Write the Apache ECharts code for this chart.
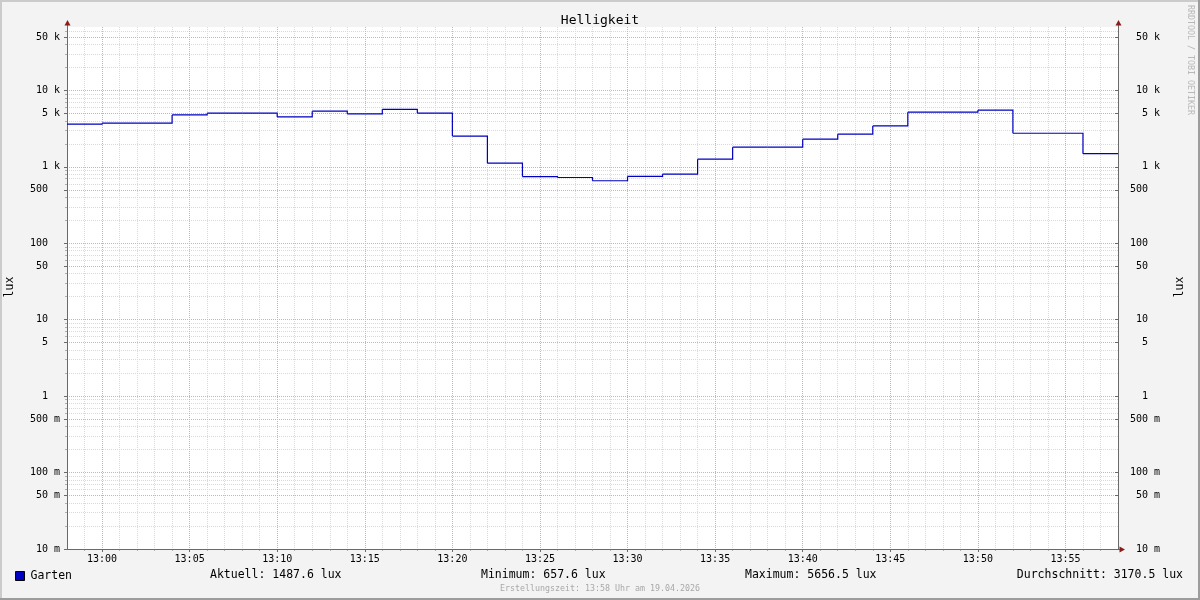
<!DOCTYPE html>
<html>
<head>
<meta charset="utf-8">
<script src="https://cdn.jsdelivr.net/npm/echarts@6/dist/echarts.min.js"></script>
<style>
html,body{margin:0;padding:0;background:#f3f3f3;}
#chart{width:1200px;height:600px;}
</style>
</head>
<body>
<div id="chart"></div>
<script>
// ---- data ----
const stepTimes = ['12:58','13:00','13:02','13:04','13:06','13:08','13:10','13:12','13:14','13:16',
                   '13:18','13:20','13:22','13:24','13:26','13:28','13:30','13:32','13:34','13:36',
                   '13:38','13:40','13:42','13:44','13:46','13:48','13:50','13:52','13:54','13:56'];
const garten = [3615, 3727, 3727, 4785, 5036, 5036, 4505, 5345, 4931, 5656.5,
                5036, 2530, 1117, 747, 725, 657.6, 750, 802, 1261, 1811,
                1811, 2301, 2674, 3433, 5186, 5186, 5508, 2752, 2752, 1487.6];
const endTime = '13:58';
const startTime = '12:58';
const xTickLabels = ['13:00','13:05','13:10','13:15','13:20','13:25','13:30','13:35','13:40','13:45','13:50','13:55'];
const yTickValues = [0.01, 0.05, 0.1, 0.5, 1, 5, 10, 50, 100, 500, 1000, 5000, 10000, 50000];
const yTickLabels = ['10 m','50 m','100 m','500 m','1  ','5  ','10  ','50  ','100  ','500  ','1 k','5 k','10 k','50 k'];
const statLabels = ['Aktuell', 'Minimum', 'Maximum', 'Durchschnitt'];
const statValues = [1487.6, 657.6, 5656.5, 3170.5];
const unit = 'lux';
const seriesName = 'Garten';
const chartTitle = 'Helligkeit';
const footer = 'Erstellungszeit: 13:58 Uhr am 19.04.2026';
const watermark = 'RRDTOOL / TOBI OETIKER';

// ---- helpers ----
const toMin = t => { const p = t.split(':'); return (+p[0]) * 60 + (+p[1]); };
const fmtMin = m => { const h = Math.floor(m / 60), mm = Math.round(m % 60); return h + ':' + (mm < 10 ? '0' : '') + mm; };
const FONT = "'DejaVu Sans Mono', monospace";
const LINE_COLOR = '#0000c0';

const xMin = toMin(startTime), xMax = toMin(endTime);
const xMajor = xTickLabels.map(toMin);
const xMinor = [];
for (let m = xMin + 1; m < xMax; m++) if (xMajor.indexOf(m) < 0) xMinor.push(m);
const yMinor = [];
for (let e = -2; e <= 4; e++) for (let k = 2; k <= 9; k++) if (k !== 5) yMinor.push(k * Math.pow(10, e));

const yFmt = v => {
  for (let i = 0; i < yTickValues.length; i++) {
    if (Math.abs(v - yTickValues[i]) / yTickValues[i] < 1e-6) return yTickLabels[i];
  }
  return '';
};

// each step: [start, end, value, nextValue]
const stepData = stepTimes.map((t, i) => {
  const tEnd = i + 1 < stepTimes.length ? toMin(stepTimes[i + 1]) : xMax;
  const next = i + 1 < garten.length ? garten[i + 1] : garten[i];
  return [toMin(t), tEnd, garten[i], next];
});

const yMinVal = 0.00999, yMaxVal = 67600;
const majorLine = { show: true, lineStyle: { color: '#f0a4a4', width: 1, type: [1, 1] } };
const minorLine = { show: true, lineStyle: { color: '#d9d9d9', width: 1, type: [1, 1] } };
const axisCol = '#6a6a6a';
const arrowCol = '#8b1c1c';

const chart = echarts.init(document.getElementById('chart'), null, { renderer: 'canvas' });
const option = {
  backgroundColor: '#f3f3f3',
  animation: false,
  title: {
    text: chartTitle, left: 'center', top: 9,
    textStyle: { fontFamily: FONT, fontSize: 13, fontWeight: 'normal', color: '#000' }
  },
  legend: {
    data: [seriesName], left: 15, top: 570, icon: 'rect', itemWidth: 9, itemHeight: 9, itemGap: 5,
    textStyle: { fontFamily: FONT, fontSize: 11.5, color: '#000', padding: [0, 0, 0, 1] },
    itemStyle: { color: LINE_COLOR, borderColor: '#000', borderWidth: 1 }, padding: 0
  },
  grid: { left: 67, right: 82, top: 27, bottom: 51, show: true, backgroundColor: '#ffffff', borderWidth: 0, containLabel: false },
  xAxis: [
    {
      type: 'value', min: xMin, max: xMax, position: 'bottom', z: 3,
      axisLine: { show: true, lineStyle: { color: axisCol, width: 1 } },
      axisTick: { show: true, customValues: xMajor, length: 3, lineStyle: { color: axisCol } },
      axisLabel: { customValues: xMajor, formatter: v => fmtMin(v), fontFamily: FONT, fontSize: 10, color: '#000', margin: 5 },
      splitLine: majorLine
    },
    {
      type: 'value', min: xMin, max: xMax, position: 'bottom', z: 1,
      axisLine: { show: false },
      axisTick: { show: true, customValues: xMinor, length: 2, lineStyle: { color: '#b0b0b0' } },
      axisLabel: { show: false },
      splitLine: minorLine
    }
  ],
  yAxis: [
    {
      type: 'log', logBase: 10, min: yMinVal, max: yMaxVal, position: 'left', z: 3,
      axisLine: { show: true, lineStyle: { color: axisCol, width: 1 } },
      axisTick: { show: true, customValues: yTickValues, length: 3, lineStyle: { color: axisCol } },
      axisLabel: { customValues: yTickValues, formatter: yFmt, fontFamily: FONT, fontSize: 10, color: '#000', margin: 7 },
      splitLine: majorLine
    },
    {
      type: 'log', logBase: 10, min: yMinVal, max: yMaxVal, position: 'right', z: 3,
      axisLine: { show: true, lineStyle: { color: axisCol, width: 1 } },
      axisTick: { show: true, customValues: yTickValues, length: 3, inside: true, lineStyle: { color: axisCol } },
      axisLabel: { customValues: yTickValues, formatter: yFmt, fontFamily: FONT, fontSize: 10, color: '#000', margin: 42, align: 'right' },
      splitLine: { show: false }
    },
    {
      type: 'log', logBase: 10, min: yMinVal, max: yMaxVal, position: 'left', z: 1,
      axisLine: { show: false },
      axisTick: { show: true, customValues: yMinor, length: 2, lineStyle: { color: '#b0b0b0' } },
      axisLabel: { show: false },
      splitLine: minorLine
    }
  ],
  series: [
    {
      name: seriesName, type: 'custom', data: stepData,
      xAxisIndex: 0, yAxisIndex: 0, z: 5, clip: true,
      encode: { x: [0, 1], y: [2, 3] },
      itemStyle: { color: LINE_COLOR },
      renderItem: (params, api) => {
        const t0 = api.value(0), t1 = api.value(1), v = api.value(2), vn = api.value(3);
        const pts = [api.coord([t0, v]), api.coord([t1, v]), api.coord([t1, vn])];
        return {
          type: 'polyline',
          shape: { points: pts },
          style: { stroke: LINE_COLOR, lineWidth: 1.2, fill: null }
        };
      }
    }
  ],
  graphic: [
    // frame shading
    { type: 'rect', shape: { x: 0, y: 0, width: 1200, height: 2 }, style: { fill: '#cbcbcb' }, silent: true },
    { type: 'rect', shape: { x: 0, y: 0, width: 2, height: 600 }, style: { fill: '#cbcbcb' }, silent: true },
    { type: 'rect', shape: { x: 0, y: 598, width: 1200, height: 2 }, style: { fill: '#9c9c9c' }, silent: true },
    { type: 'rect', shape: { x: 1198, y: 0, width: 2, height: 600 }, style: { fill: '#9c9c9c' }, silent: true },
    // axis arrows
    { type: 'line', shape: { x1: 67.5, y1: 22, x2: 67.5, y2: 27 }, style: { stroke: axisCol, lineWidth: 1 }, silent: true },
    { type: 'polygon', shape: { points: [[64.5, 25.5], [70.5, 25.5], [67.5, 20]] }, style: { fill: arrowCol }, silent: true },
    { type: 'line', shape: { x1: 1118.5, y1: 22, x2: 1118.5, y2: 27 }, style: { stroke: axisCol, lineWidth: 1 }, silent: true },
    { type: 'polygon', shape: { points: [[1115.5, 25.5], [1121.5, 25.5], [1118.5, 20]] }, style: { fill: arrowCol }, silent: true },
    { type: 'line', shape: { x1: 1118, y1: 549.5, x2: 1121, y2: 549.5 }, style: { stroke: axisCol, lineWidth: 1 }, silent: true },
    { type: 'polygon', shape: { points: [[1119.5, 546.5], [1119.5, 552.5], [1125, 549.5]] }, style: { fill: arrowCol }, silent: true },
    // axis names
    { type: 'text', x: 10, y: 287, rotation: Math.PI / 2, style: { text: unit, font: "11.5px 'DejaVu Sans Mono'", fill: '#000', align: 'center', verticalAlign: 'middle' }, silent: true },
    { type: 'text', x: 1180, y: 287, rotation: Math.PI / 2, style: { text: unit, font: "11.5px 'DejaVu Sans Mono'", fill: '#000', align: 'center', verticalAlign: 'middle' }, silent: true },
    // watermark
    { type: 'text', x: 1190, y: 5, rotation: -Math.PI / 2, style: { text: watermark, font: "8.3px 'DejaVu Sans Mono'", fill: '#b8b8b8', align: 'left', verticalAlign: 'middle' }, silent: true },
    // stats
    { type: 'text', x: 210, y: 575.5, style: { text: statLabels[0] + ': ' + statValues[0].toFixed(1) + ' ' + unit, font: "11.5px 'DejaVu Sans Mono'", fill: '#000', align: 'left', verticalAlign: 'middle' }, silent: true },
    { type: 'text', x: 481, y: 575.5, style: { text: statLabels[1] + ': ' + statValues[1].toFixed(1) + ' ' + unit, font: "11.5px 'DejaVu Sans Mono'", fill: '#000', align: 'left', verticalAlign: 'middle' }, silent: true },
    { type: 'text', x: 745, y: 575.5, style: { text: statLabels[2] + ': ' + statValues[2].toFixed(1) + ' ' + unit, font: "11.5px 'DejaVu Sans Mono'", fill: '#000', align: 'left', verticalAlign: 'middle' }, silent: true },
    { type: 'text', x: 1183, y: 575.5, style: { text: statLabels[3] + ': ' + statValues[3].toFixed(1) + ' ' + unit, font: "11.5px 'DejaVu Sans Mono'", fill: '#000', align: 'right', verticalAlign: 'middle' }, silent: true },
    // footer
    { type: 'text', x: 600, y: 589, style: { text: footer, font: "8.3px 'DejaVu Sans Mono'", fill: '#a8a8a8', align: 'center', verticalAlign: 'middle' }, silent: true }
  ]
};
chart.setOption(option);
</script>
</body>
</html>
